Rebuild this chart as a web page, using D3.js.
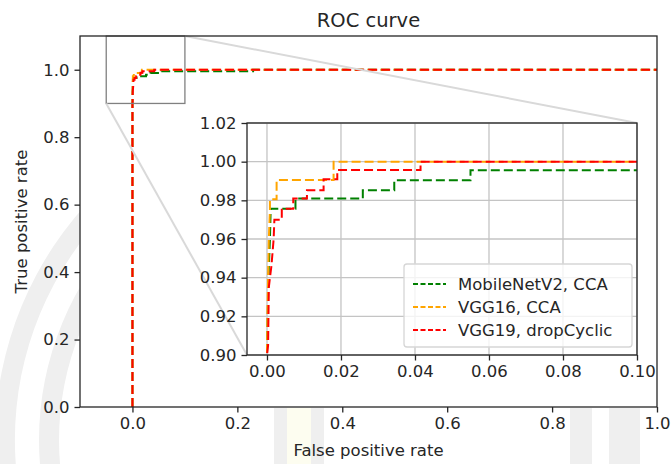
<!DOCTYPE html>
<html>
<head>
<meta charset="utf-8">
<script src="https://cdn.jsdelivr.net/npm/d3@7"></script>
<style>
  html, body { margin: 0; padding: 0; background: #fff; }
  svg { display: block; font-family: "DejaVu Sans", sans-serif; }
</style>
</head>
<body>
<svg id="chart" width="672" height="464"></svg>
<script>
// ---------------- data ----------------
const seriesNames = ["MobileNetV2, CCA", "VGG16, CCA", "VGG19, dropCyclic"];
const seriesColors = ["#008000", "#ffa500", "#ff0000"];

const mobileFpr = [0, 0, 0.0003, 0.0005, 0.0008, 0.001, 0.0077, 0.0077, 0.0259, 0.0259, 0.0344, 0.0344, 0.055, 0.055, 0.23, 0.23, 1];
const mobileTpr = [0, 0.90, 0.93, 0.945, 0.96, 0.9757, 0.9757, 0.9809, 0.9809, 0.9852, 0.9852, 0.9904, 0.9904, 0.9956, 0.9956, 1.0, 1.0];

const vgg16Fpr = [0, 0, 0.0002, 0.0005, 0.0008, 0.0008, 0.0026, 0.0026, 0.018, 0.018, 1];
const vgg16Tpr = [0, 0.90, 0.93, 0.96, 0.975, 0.9805, 0.9805, 0.9905, 0.9905, 1.0, 1.0];

const vgg19Fpr = [0, 0, 0.0003, 0.0005, 0.0008, 0.0012, 0.0018, 0.002, 0.004, 0.004, 0.0071, 0.0071, 0.0108, 0.0108, 0.0153, 0.0153, 0.019, 0.019, 0.0415, 0.0415, 1];
const vgg19Tpr = [0, 0.90, 0.905, 0.935, 0.94, 0.946, 0.96, 0.97, 0.97, 0.9757, 0.9757, 0.9809, 0.9809, 0.9852, 0.9852, 0.9909, 0.9909, 0.9957, 0.9957, 1.0, 1.0];

const mainXTicks = [0, 0.2, 0.4, 0.6, 0.8, 1.0];
const mainYTicks = [0, 0.2, 0.4, 0.6, 0.8, 1.0];
const insetXTicks = [0, 0.02, 0.04, 0.06, 0.08, 0.10];
const insetYTicks = [0.90, 0.92, 0.94, 0.96, 0.98, 1.00, 1.02];

const titleText = "ROC curve";
const xLabelText = "False positive rate";
const yLabelText = "True positive rate";

// ---------------- build ----------------
const seriesList = [
  { name: seriesNames[0], color: seriesColors[0], fpr: mobileFpr, tpr: mobileTpr },
  { name: seriesNames[1], color: seriesColors[1], fpr: vgg16Fpr, tpr: vgg16Tpr },
  { name: seriesNames[2], color: seriesColors[2], fpr: vgg19Fpr, tpr: vgg19Tpr }
].map(s => ({ ...s, pts: s.fpr.map((f, i) => [f, s.tpr[i]]) }));

const svg = d3.select("#chart");
const FS = 16.5;
const TXT = "#262626";
const tickLen = 5.5, tickPad = 5;

// watermark (faint background)
const wm = svg.append("g");
const arcC = [345, 440];
[340, 296].forEach(r => {
  wm.append("path")
    .attr("d", d3.arc()({ innerRadius: r - 10, outerRadius: r + 10, startAngle: -Math.PI, endAngle: 0 }))
    .attr("transform", `translate(${arcC[0]},${arcC[1]})`)
    .attr("fill", "#efefef");
});
[[274, 287, "#efefef"], [287, 311, "#fdfdf0"], [311, 324, "#efefef"], [570, 592, "#efefef"], [609, 640, "#efefef"]].forEach(d => {
  wm.append("rect").attr("x", d[0]).attr("y", 408).attr("width", d[1] - d[0]).attr("height", 56).attr("fill", d[2]);
});

// main axes
const M = { left: 80, right: 657, top: 36, bottom: 407 };
const x = d3.scaleLinear().domain([-0.1, 1.0]).range([M.left, M.right]);
const y = d3.scaleLinear().domain([0, 1.1]).range([M.bottom, M.top]);

svg.append("rect").attr("x", M.left).attr("y", M.top)
  .attr("width", M.right - M.left).attr("height", M.bottom - M.top).attr("fill", "#fff");

svg.append("defs").append("clipPath").attr("id", "mainClip")
  .append("rect").attr("x", M.left).attr("y", M.top)
  .attr("width", M.right - M.left).attr("height", M.bottom - M.top);

const mainLine = d3.line().x(d => x(d[0])).y(d => y(d[1]));
const gMain = svg.append("g").attr("clip-path", "url(#mainClip)");
seriesList.forEach(s => {
  gMain.append("path").attr("d", mainLine(s.pts))
    .attr("fill", "none").attr("stroke", s.color).attr("stroke-width", 2)
    .attr("stroke-dasharray", "9,4");
});

// zoom indicator rectangle and connectors
const I = { left: 247, right: 637, top: 123, bottom: 355 };
const zx0 = x(-0.05), zx1 = x(0.1), zy0 = y(1.1), zy1 = y(0.9);
svg.append("rect").attr("x", zx0).attr("y", zy0).attr("width", zx1 - zx0).attr("height", zy1 - zy0)
  .attr("fill", "none").attr("stroke", "#808080").attr("stroke-width", 1.3);
svg.append("line").attr("x1", zx1).attr("y1", zy0).attr("x2", I.right).attr("y2", I.top)
  .attr("stroke", "#d9d9d9").attr("stroke-width", 2);
svg.append("line").attr("x1", zx0).attr("y1", zy1).attr("x2", I.left).attr("y2", I.bottom)
  .attr("stroke", "#d9d9d9").attr("stroke-width", 2);

function styleAxis(g) {
  g.selectAll("path.domain").remove();
  g.selectAll(".tick line").attr("stroke", TXT).attr("stroke-width", 1.3);
  g.selectAll(".tick text").attr("fill", TXT).style("font-size", FS + "px").style("font-family", "DejaVu Sans");
}

svg.append("g").attr("transform", `translate(0,${M.bottom})`)
  .call(d3.axisBottom(x).tickValues(mainXTicks).tickFormat(d3.format(".1f")).tickSize(tickLen).tickPadding(tickPad))
  .call(styleAxis);
svg.append("g").attr("transform", `translate(${M.left},0)`)
  .call(d3.axisLeft(y).tickValues(mainYTicks).tickFormat(d3.format(".1f")).tickSize(tickLen).tickPadding(tickPad))
  .call(styleAxis);

svg.append("rect").attr("x", M.left).attr("y", M.top)
  .attr("width", M.right - M.left).attr("height", M.bottom - M.top)
  .attr("fill", "none").attr("stroke", TXT).attr("stroke-width", 1.3);

svg.append("text").attr("x", (M.left + M.right) / 2).attr("y", 27)
  .attr("text-anchor", "middle").attr("fill", TXT).style("font-size", "19.5px").text(titleText);
svg.append("text").attr("x", (M.left + M.right) / 2).attr("y", 456)
  .attr("text-anchor", "middle").attr("fill", TXT).style("font-size", FS + "px").text(xLabelText);
svg.append("text").attr("transform", `translate(27,${(M.top + M.bottom) / 2}) rotate(-90)`)
  .attr("text-anchor", "middle").attr("fill", TXT).style("font-size", FS + "px").text(yLabelText);

// ---------------- inset ----------------
const xi = d3.scaleLinear().domain([-0.0054, 0.10]).range([I.left, I.right]);
const yi = d3.scaleLinear().domain([0.90, 1.02]).range([I.bottom, I.top]);

svg.append("rect").attr("x", I.left).attr("y", I.top)
  .attr("width", I.right - I.left).attr("height", I.bottom - I.top).attr("fill", "#fff");

const gGrid = svg.append("g");
insetXTicks.forEach(t => gGrid.append("line").attr("x1", xi(t)).attr("x2", xi(t)).attr("y1", I.top).attr("y2", I.bottom)
  .attr("stroke", "#c4c4c4").attr("stroke-width", 1.3));
insetYTicks.forEach(t => gGrid.append("line").attr("y1", yi(t)).attr("y2", yi(t)).attr("x1", I.left).attr("x2", I.right)
  .attr("stroke", "#c4c4c4").attr("stroke-width", 1.3));

svg.select("defs").append("clipPath").attr("id", "insetClip")
  .append("rect").attr("x", I.left).attr("y", I.top)
  .attr("width", I.right - I.left).attr("height", I.bottom - I.top);

const insetLine = d3.line().x(d => xi(d[0])).y(d => yi(d[1]));
const gIn = svg.append("g").attr("clip-path", "url(#insetClip)");
seriesList.forEach(s => {
  gIn.append("path").attr("d", insetLine(s.pts))
    .attr("fill", "none").attr("stroke", s.color).attr("stroke-width", 2)
    .attr("stroke-dasharray", "9,4");
});

svg.append("g").attr("transform", `translate(0,${I.bottom})`)
  .call(d3.axisBottom(xi).tickValues(insetXTicks).tickFormat(d3.format(".2f")).tickSize(tickLen).tickPadding(tickPad))
  .call(styleAxis);
svg.append("g").attr("transform", `translate(${I.left},0)`)
  .call(d3.axisLeft(yi).tickValues(insetYTicks).tickFormat(d3.format(".2f")).tickSize(tickLen).tickPadding(tickPad))
  .call(styleAxis);
svg.append("rect").attr("x", I.left).attr("y", I.top)
  .attr("width", I.right - I.left).attr("height", I.bottom - I.top)
  .attr("fill", "none").attr("stroke", TXT).attr("stroke-width", 1.3);

// legend
const L = { x: 404, y: 264, w: 228, h: 83 };
const gLeg = svg.append("g");
gLeg.append("rect").attr("x", L.x).attr("y", L.y).attr("width", L.w).attr("height", L.h)
  .attr("rx", 3).attr("fill", "#fff").attr("fill-opacity", 0.8).attr("stroke", "#d6d6d6").attr("stroke-width", 1.3);
seriesList.forEach((s, i) => {
  const cy = L.y + 20 + i * 23;
  gLeg.append("line").attr("x1", L.x + 9).attr("x2", L.x + 42).attr("y1", cy).attr("y2", cy)
    .attr("stroke", s.color).attr("stroke-width", 2).attr("stroke-dasharray", "5,2.5");
  gLeg.append("text").attr("x", L.x + 54).attr("y", cy).attr("dy", "0.36em")
    .attr("fill", TXT).style("font-size", FS + "px").text(s.name);
});
</script>
</body>
</html>
